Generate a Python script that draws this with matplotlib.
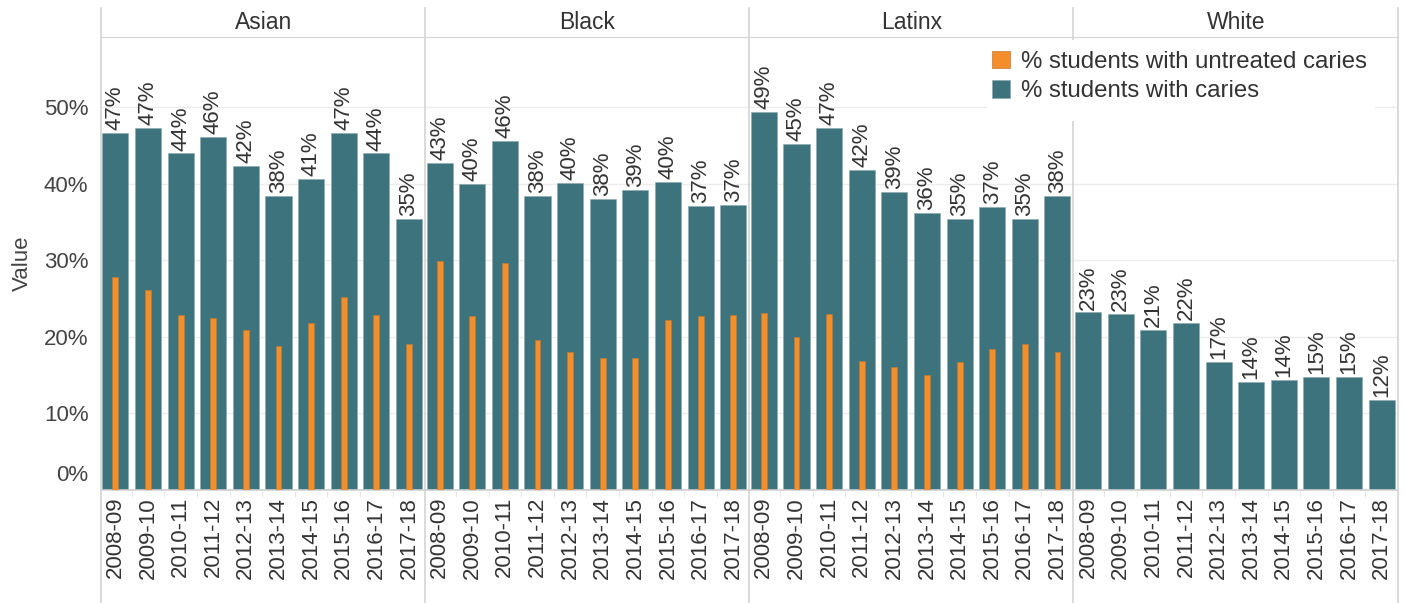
import numpy as np
import matplotlib
matplotlib.use('Agg')
import matplotlib.pyplot as plt
from matplotlib.lines import Line2D
from matplotlib.patches import Patch, Rectangle
from matplotlib.transforms import ScaledTranslation

plt.rcParams['font.family'] = ['Liberation Sans', 'DejaVu Sans']

# data (percent)
groups = ['Asian', 'Black', 'Latinx', 'White']
years = ['2008-09', '2009-10', '2010-11', '2011-12', '2012-13',
         '2013-14', '2014-15', '2015-16', '2016-17', '2017-18']
caries = {
    'Asian':  [46.7, 47.3, 44.0, 46.1, 42.4, 38.4, 40.7, 46.7, 44.0, 35.4],
    'Black':  [42.7, 40.0, 45.6, 38.4, 40.1, 38.0, 39.2, 40.3, 37.1, 37.3],
    'Latinx': [49.4, 45.2, 47.3, 41.8, 39.0, 36.2, 35.4, 37.0, 35.4, 38.4],
    'White':  [23.2, 23.0, 20.9, 21.8, 16.7, 14.1, 14.4, 14.8, 14.8, 11.8],
}
untreated = {
    'Asian':  [27.8, 26.1, 22.9, 22.5, 20.9, 18.8, 21.8, 25.2, 22.9, 19.1],
    'Black':  [29.9, 22.7, 29.7, 19.6, 18.0, 17.3, 17.3, 22.2, 22.7, 22.9],
    'Latinx': [23.1, 20.0, 23.0, 16.9, 16.1, 15.0, 16.7, 18.4, 19.1, 18.0],
    'White':  [None] * 10,
}
yticks = [0, 10, 20, 30, 40, 50]

TEAL = '#3d737c'
ORANGE = '#f28e2b'
FS = 16
W, H = 1406, 603

fig = plt.figure(figsize=(W / 100, H / 100), dpi=100)
left, right, top, bottom = 101, 1398, 37, 490
pw = (right - left) / 4.0
axes = []
for i, g in enumerate(groups):
    ax = fig.add_axes([(left + i * pw) / W, 1 - bottom / H, pw / W, (bottom - top) / H])
    axes.append(ax)
    x = np.arange(len(years))
    ax.bar(x, caries[g], width=0.8, color=TEAL, zorder=2, edgecolor='#8aa9ae', linewidth=0.4)
    u = np.array([np.nan if v is None else v for v in untreated[g]], dtype=float)
    if not np.all(np.isnan(u)):
        ax.bar(x, np.nan_to_num(u), width=0.18, color=ORANGE, zorder=3,
               edgecolor='#c97a2e', linewidth=0.4)
    for xi, v in zip(x, caries[g]):
        ax.annotate('%d%%' % round(v), (xi, v), xytext=(0, 2), textcoords='offset points',
                    rotation=90, ha='center', va='bottom', fontsize=FS, color='#333333')
    ax.set_xlim(-0.44, 9.5)
    ax.set_ylim(0, 59.2)
    ax.set_yticks(yticks)
    ax.set_xticks(x)
    ax.set_xticklabels(years, rotation=90, fontsize=FS, color='#333333')
    ax.set_xticks(x[:-1] + 0.5, minor=True)
    ax.tick_params(axis='x', which='major', length=0, pad=5)
    ax.tick_params(axis='x', which='minor', length=5, color='#e6e6e6')
    ax.tick_params(axis='y', length=0)
    ax.grid(axis='y', color='#ececec', linewidth=1, zorder=0)
    ax.set_axisbelow(True)
    for s in ['left', 'right']:
        ax.spines[s].set_visible(False)
    ax.spines['top'].set_color('#d4d4d4')
    ax.spines['bottom'].set_color('#cfcfcf')
    ax.spines['bottom'].set_linewidth(1.2)
    ht = ax.text(0.5, 1.0, g, ha='center', va='bottom', fontsize=16.5, color='#333333')
    ht.set_transform(ax.transAxes + ScaledTranslation(0, 3 / 100, fig.dpi_scale_trans))
    if i == 0:
        ax.set_yticklabels(['%d%%' % t for t in yticks], fontsize=FS, color='#444444')
        ax.tick_params(axis='y', pad=9)
        ax.set_ylabel('Value', fontsize=FS, color='#444444', labelpad=8)
        lab0 = ax.yaxis.get_major_ticks()[0].label1
        lab0.set_transform(lab0.get_transform() + ScaledTranslation(0, 17 / 100, fig.dpi_scale_trans))
    else:
        ax.set_yticklabels([])

# panel separator lines
for i in range(5):
    xf = (left + i * pw - 0.5) / W
    fig.add_artist(Line2D([xf, xf], [0, 1 - 8 / H], transform=fig.transFigure,
                          color='#d4d4d4', linewidth=1.2, zorder=1))

# white backing for the legend area
fig.add_artist(Rectangle((987 / W, 1 - 121 / H), (1375 - 987) / W, (121 - 40) / H,
                         transform=fig.transFigure, facecolor='white', edgecolor='none', zorder=9))

handles = [Patch(facecolor=ORANGE, edgecolor='#c97a2e', linewidth=0.5),
           Patch(facecolor=TEAL, edgecolor='#8aa9ae', linewidth=0.5)]
leg = fig.legend(handles, ['% students with untreated caries', '% students with caries'],
                 loc='upper left', bbox_to_anchor=(987 / W, 1 - 46 / H),
                 bbox_transform=fig.transFigure, fontsize=17.3, frameon=False,
                 handlelength=0.75, handleheight=0.75, handletextpad=0.45,
                 labelspacing=0.3, borderpad=0.2, borderaxespad=0)
for t in leg.get_texts():
    t.set_color('#333333')
leg.set_zorder(10)

fig.savefig('out.png', dpi=100)
